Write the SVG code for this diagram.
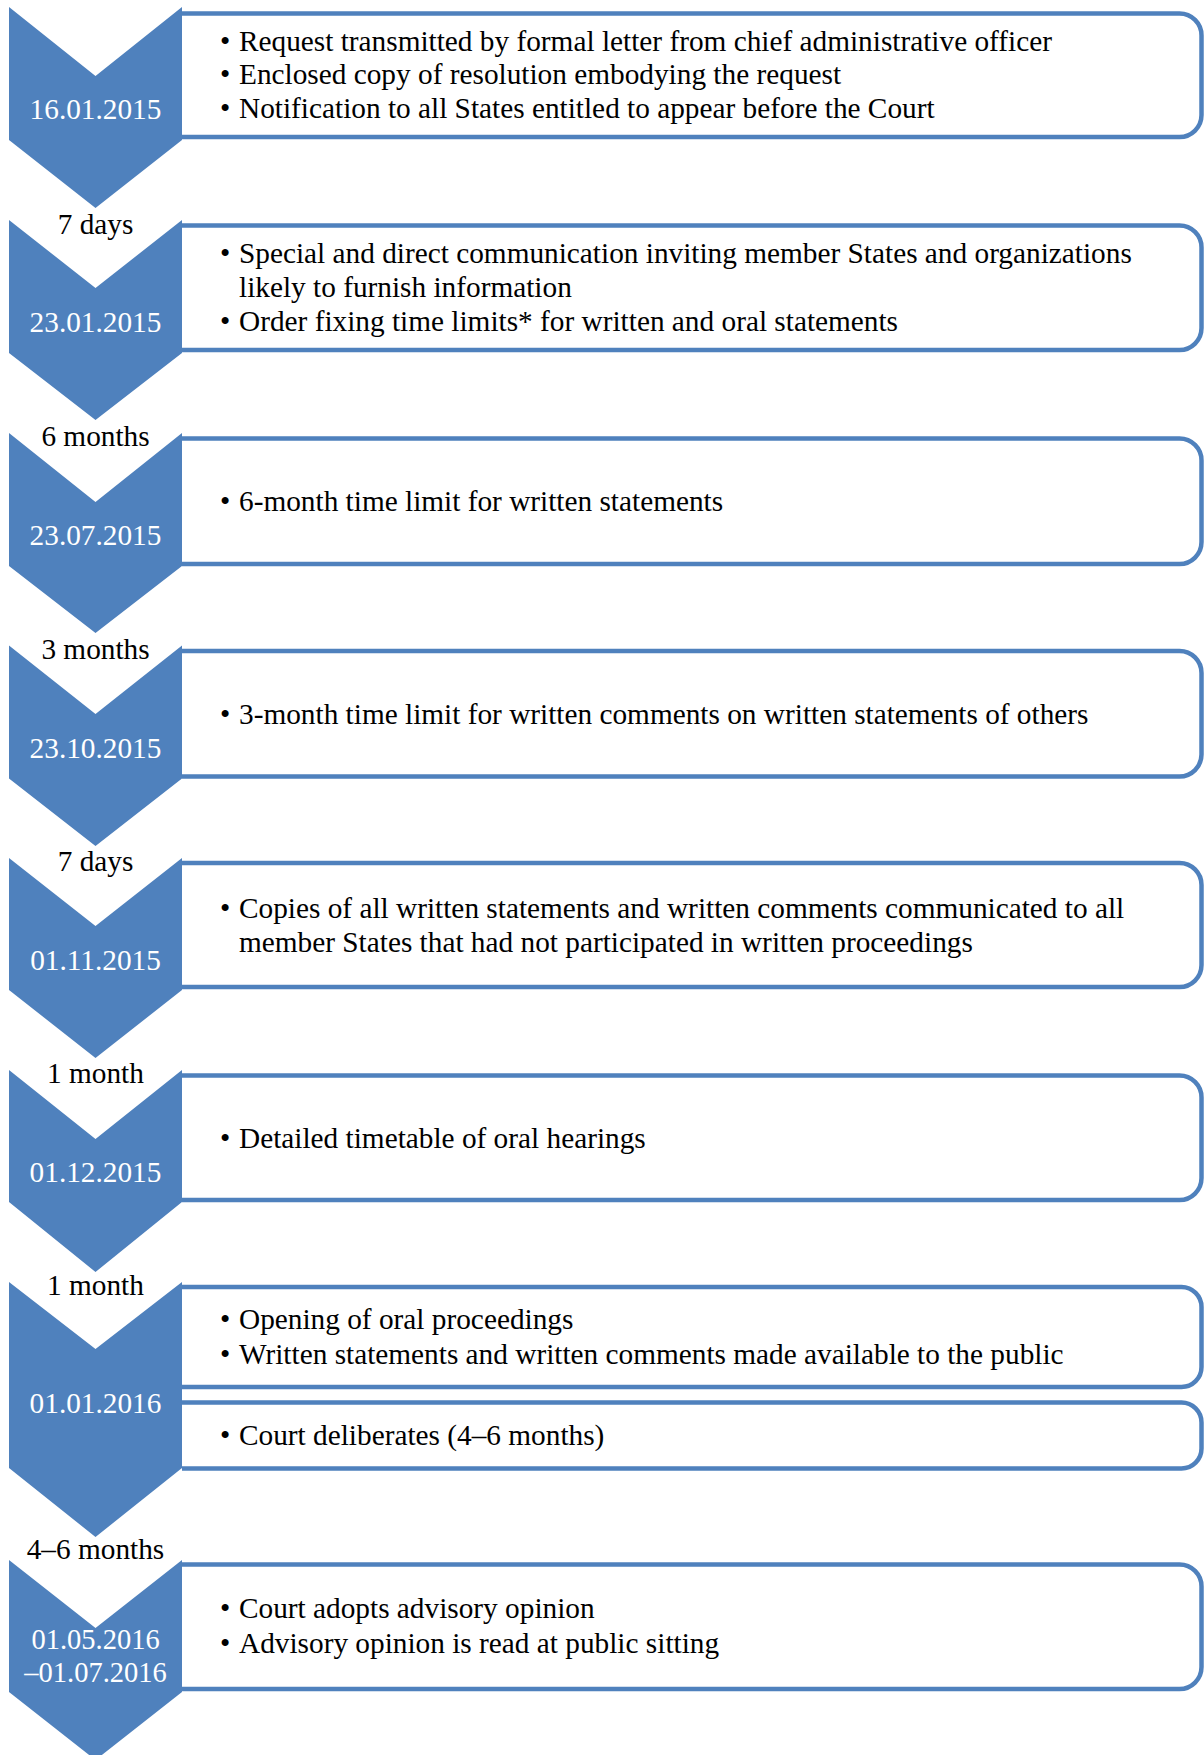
<svg xmlns="http://www.w3.org/2000/svg" width="1204" height="1755" viewBox="0 0 1204 1755">
<style>
.chev{fill:#4F81BD;stroke:none}
.box{fill:#FFFFFF;stroke:#4F81BD;stroke-width:4.5}
text{font-family:"Liberation Serif","Times New Roman",serif;font-size:29.3px}
.date{fill:#FFFFFF;text-anchor:middle}
.date2{font-size:28.5px}
.lbl{fill:#000000;text-anchor:middle}
.body{fill:#000000}
</style>
<rect width="1204" height="1755" fill="#FFFFFF"/>
<g id="connectors"></g>

<g id="step1">
<path class="chev" d="M9,7 L95.5,76 L182,7 L182,140 L95.5,208 L9,140 Z"/>
<path class="box" d="M182,13.5 H1179.5 A22,22 0 0 1 1201.5,35.5 V115 A22,22 0 0 1 1179.5,137 H182"/>
<text class="date" x="95.5" y="119">16.01.2015</text>
<text class="body"><tspan x="220" y="51">•</tspan><tspan x="239" y="51">Request transmitted by formal letter from chief administrative officer</tspan><tspan x="220" y="84">•</tspan><tspan x="239" y="84">Enclosed copy of resolution embodying the request</tspan><tspan x="220" y="118">•</tspan><tspan x="239" y="118">Notification to all States entitled to appear before the Court</tspan></text>
</g>

<g id="step2">
<path class="chev" d="M9,220 L95.5,288 L182,220 L182,353 L95.5,420 L9,353 Z"/>
<path class="box" d="M182,225.5 H1179.5 A22,22 0 0 1 1201.5,247.5 V328 A22,22 0 0 1 1179.5,350 H182"/>
<text class="lbl" x="95.5" y="234">7 days</text>
<text class="date" x="95.5" y="332">23.01.2015</text>
<text class="body"><tspan x="220" y="263">•</tspan><tspan x="239" y="263">Special and direct communication inviting member States and organizations</tspan><tspan x="239" y="297">likely to furnish information</tspan><tspan x="220" y="331">•</tspan><tspan x="239" y="331">Order fixing time limits* for written and oral statements</tspan></text>
</g>

<g id="step3">
<path class="chev" d="M9,433 L95.5,502 L182,433 L182,566 L95.5,633 L9,566 Z"/>
<path class="box" d="M182,438.5 H1179.5 A22,22 0 0 1 1201.5,460.5 V542 A22,22 0 0 1 1179.5,564 H182"/>
<text class="lbl" x="95.5" y="446">6 months</text>
<text class="date" x="95.5" y="545">23.07.2015</text>
<text class="body"><tspan x="220" y="511">•</tspan><tspan x="239" y="511">6-month time limit for written statements</tspan></text>
</g>

<g id="step4">
<path class="chev" d="M9,645.5 L95.5,714 L182,645.5 L182,778.5 L95.5,846 L9,778.5 Z"/>
<path class="box" d="M182,651 H1179.5 A22,22 0 0 1 1201.5,673 V754.5 A22,22 0 0 1 1179.5,776.5 H182"/>
<text class="lbl" x="95.5" y="658.5">3 months</text>
<text class="date" x="95.5" y="757.5">23.10.2015</text>
<text class="body"><tspan x="220" y="723.5">•</tspan><tspan x="239" y="723.5">3-month time limit for written comments on written statements of others</tspan></text>
</g>

<g id="step5">
<path class="chev" d="M9,858 L95.5,926 L182,858 L182,990 L95.5,1058 L9,990 Z"/>
<path class="box" d="M182,863 H1179.5 A22,22 0 0 1 1201.5,885 V965 A22,22 0 0 1 1179.5,987 H182"/>
<text class="lbl" x="95.5" y="870.5">7 days</text>
<text class="date" x="95.5" y="969.5">01.11.2015</text>
<text class="body"><tspan x="220" y="918">•</tspan><tspan x="239" y="918">Copies of all written statements and written comments communicated to all</tspan><tspan x="239" y="952">member States that had not participated in written proceedings</tspan></text>
</g>

<g id="step6">
<path class="chev" d="M9,1070 L95.5,1139 L182,1070 L182,1202 L95.5,1272 L9,1202 Z"/>
<path class="box" d="M182,1075.5 H1179.5 A22,22 0 0 1 1201.5,1097.5 V1178 A22,22 0 0 1 1179.5,1200 H182"/>
<text class="lbl" x="95.5" y="1083">1 month</text>
<text class="date" x="95.5" y="1182">01.12.2015</text>
<text class="body"><tspan x="220" y="1148">•</tspan><tspan x="239" y="1148">Detailed timetable of oral hearings</tspan></text>
</g>

<g id="step7">
<path class="chev" d="M9,1282 L95.5,1349 L182,1282 L182,1468 L95.5,1537 L9,1468 Z"/>
<path class="box" d="M182,1287 H1181.5 A20,20 0 0 1 1201.5,1307 V1367 A20,20 0 0 1 1181.5,1387 H182"/>
<path class="box" d="M182,1402.5 H1181.5 A20,20 0 0 1 1201.5,1422.5 V1448.5 A20,20 0 0 1 1181.5,1468.5 H182"/>
<text class="lbl" x="95.5" y="1295">1 month</text>
<text class="date" x="95.5" y="1413">01.01.2016</text>
<text class="body"><tspan x="220" y="1329">•</tspan><tspan x="239" y="1329">Opening of oral proceedings</tspan><tspan x="220" y="1364">•</tspan><tspan x="239" y="1364">Written statements and written comments made available to the public</tspan></text>
<text class="body"><tspan x="220" y="1445">•</tspan><tspan x="239" y="1445">Court deliberates (4–6 months)</tspan></text>
</g>

<g id="step8">
<path class="chev" d="M9,1560 L95.5,1628 L182,1560 L182,1692 L95.5,1760 L9,1692 Z"/>
<path class="box" d="M182,1564.5 H1179.5 A22,22 0 0 1 1201.5,1586.5 V1667 A22,22 0 0 1 1179.5,1689 H182"/>
<text class="lbl" x="95.5" y="1559">4–6 months</text>
<text class="date date2" x="95.5" y="1649">01.05.2016</text>
<text class="date date2" x="95.5" y="1682">–01.07.2016</text>
<text class="body"><tspan x="220" y="1618">•</tspan><tspan x="239" y="1618">Court adopts advisory opinion</tspan><tspan x="220" y="1653">•</tspan><tspan x="239" y="1653">Advisory opinion is read at public sitting</tspan></text>
</g>
</svg>
